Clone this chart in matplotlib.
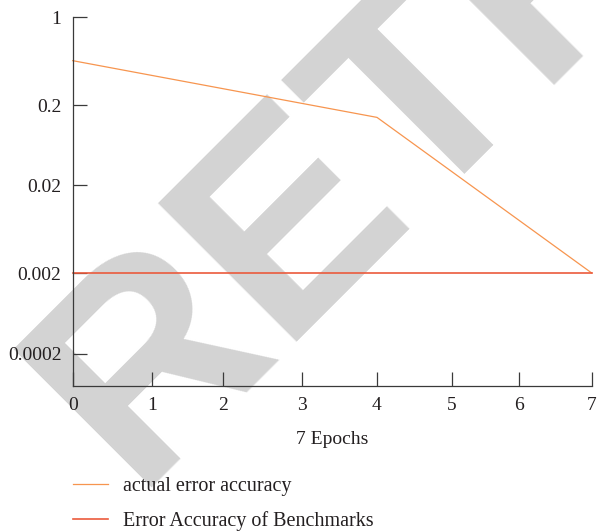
import matplotlib
matplotlib.use("Agg")
import matplotlib.pyplot as plt
from matplotlib import font_manager
import numpy as np

# epochs and the two error curves
epochs_actual = [0, 4, 7]
actual_error = [0.45, 0.14, 0.002]

epochs_bench = [0, 1, 2, 3, 4, 5, 6, 7]
bench_error = [0.002, 0.002, 0.002, 0.002, 0.002, 0.002, 0.002, 0.002]

x_ticks = [0, 1, 2, 3, 4, 5, 6, 7]
y_ticks = [0.0002, 0.002, 0.02, 0.2, 1]
y_labels = ["0.0002", "0.002", "0.02", "0.2", "1"]

# piecewise spacing of the axes (the ticks are not evenly spaced)
X_POS = np.array([0, 79.3, 150.3, 229.6, 304.3, 379.3, 446.3, 519.0])
Y_POS = np.array([32.0, 113.0, 201.0, 281.0, 369.0])
Y_LOG = np.log10(y_ticks)


def piecewise(v, src, dst):
    v = np.asarray(v, dtype=float)
    out = np.interp(v, src, dst)
    lo_slope = (dst[1] - dst[0]) / (src[1] - src[0])
    hi_slope = (dst[-1] - dst[-2]) / (src[-1] - src[-2])
    out = np.where(v < src[0], dst[0] + (v - src[0]) * lo_slope, out)
    out = np.where(v > src[-1], dst[-1] + (v - src[-1]) * hi_slope, out)
    return out


def x_fwd(v):
    return piecewise(v, np.array(x_ticks, float), X_POS)


def x_inv(p):
    return piecewise(p, X_POS, np.array(x_ticks, float))


def y_fwd(v):
    with np.errstate(divide="ignore", invalid="ignore"):
        lv = np.log10(np.clip(np.asarray(v, dtype=float), 1e-12, None))
    return piecewise(lv, Y_LOG, Y_POS)


def y_inv(p):
    return 10 ** piecewise(p, Y_POS, Y_LOG)


# narrow bold face for the watermark if there is one
def pick_font(names):
    for n in names:
        try:
            font_manager.findfont(font_manager.FontProperties(family=n),
                                  fallback_to_default=False)
            return n
        except ValueError:
            pass
    return "DejaVu Sans"


mark_font = pick_font(["Liberation Sans Narrow", "Liberation Sans"])
mark_size = 235 if mark_font == "Liberation Sans Narrow" else 205

plt.rcParams["font.family"] = ["Liberation Serif", "DejaVu Serif"]
text_col = "#231f20"
axis_col = "#3a3a3a"

fig = plt.figure(figsize=(5.98, 5.32), dpi=100)

# watermark behind the plot
fig.text(133 / 598, 1 - 487 / 532, "RETRACTED", rotation=45,
         rotation_mode="anchor", ha="left", va="baseline",
         fontsize=mark_size, fontweight="bold", family=mark_font,
         color="#d3d3d3", zorder=-1)

ax = fig.add_axes([72.7 / 598, 1 - 386 / 532, 519 / 598, 369 / 532])
ax.patch.set_alpha(0)
ax.set_xscale("function", functions=(x_fwd, x_inv))
ax.set_yscale("function", functions=(y_fwd, y_inv))

ax.plot(epochs_actual, actual_error, color="#f7954f", lw=0.9,
        label="actual error accuracy", clip_on=False)
ax.plot(epochs_bench, bench_error, color="#eb5a3c", lw=1.2,
        label="Error Accuracy of Benchmarks", clip_on=False)

ax.set_xlim(0, 7)
ax.set_ylim(y_inv(0.0), 1)

ax.set_xticks(x_ticks)
ax.set_xticklabels([str(t) for t in x_ticks])
ax.set_yticks(y_ticks)
ax.set_yticklabels(y_labels)
ax.minorticks_off()

for s in ["top", "right"]:
    ax.spines[s].set_visible(False)
for s in ["left", "bottom"]:
    ax.spines[s].set_color(axis_col)
    ax.spines[s].set_linewidth(0.9)

ax.tick_params(direction="in", length=10, width=0.9, color=axis_col,
               labelsize=14, labelcolor=text_col, pad=8)

ax.set_xlabel("7 Epochs", fontsize=14, color=text_col, labelpad=12)

fig.legend(loc="upper left", bbox_to_anchor=(55 / 598, 1 - 459 / 532),
           frameon=False, fontsize=14.5, handlelength=1.75,
           handletextpad=0.75, labelspacing=0.75, labelcolor=text_col)

fig.savefig("out.png", dpi=100)
